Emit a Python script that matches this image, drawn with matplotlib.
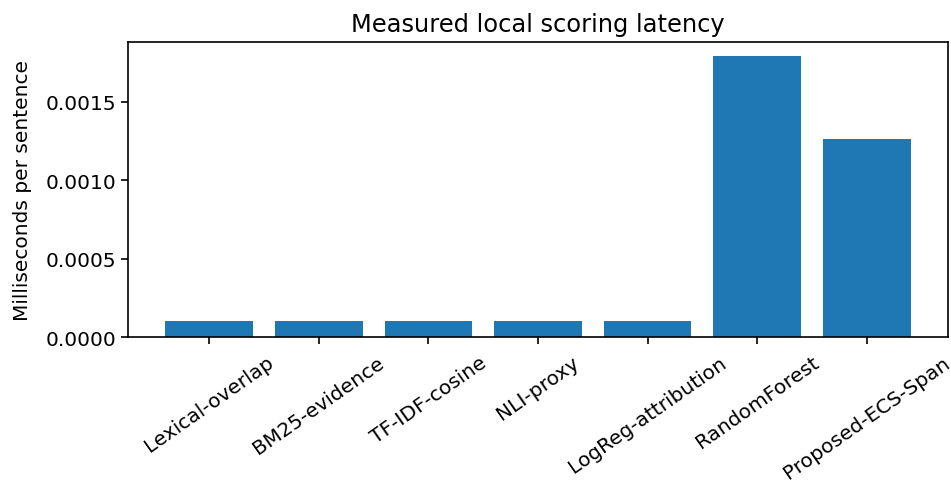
import matplotlib

matplotlib.use("Agg")
import matplotlib.pyplot as plt
from matplotlib.ticker import FormatStrFormatter, MultipleLocator

# Scoring methods and their measured per-sentence latency (ms)
methods = [
    "Lexical-overlap",
    "BM25-evidence",
    "TF-IDF-cosine",
    "NLI-proxy",
    "LogReg-attribution",
    "RandomForest",
    "Proposed-ECS-Span",
]
latency_ms = [0.0001, 0.0001, 0.0001, 0.0001, 0.0001, 0.00179, 0.00126]

fig = plt.figure(figsize=(9.51, 4.81), dpi=100)
ax = fig.add_axes([128 / 951, 1 - 338 / 481, (948 - 128) / 951, (338 - 43) / 481])

ax.bar(methods, latency_ms)
ax.set_title("Measured local scoring latency", fontsize=17.4, pad=8)
ax.set_ylabel("Milliseconds per sentence", fontsize=14.5, labelpad=10)
ax.yaxis.set_major_locator(MultipleLocator(0.0005))
ax.yaxis.set_major_formatter(FormatStrFormatter("%.4f"))
ax.tick_params(axis="both", labelsize=14.5, length=5, width=1.2)
ax.tick_params(axis="x", pad=6)
plt.setp(ax.get_xticklabels(), rotation=35)
for s in ax.spines.values():
    s.set_linewidth(1.2)

fig.savefig("out.png", dpi=100)
plt.close(fig)
